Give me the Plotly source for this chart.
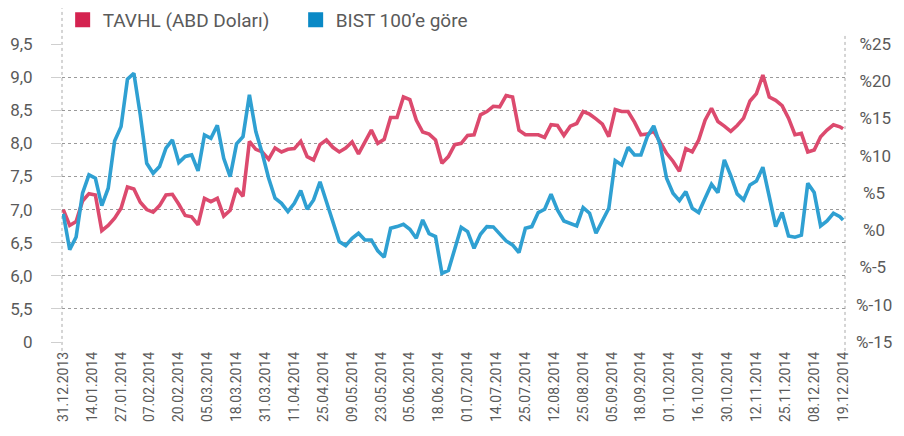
import plotly.graph_objects as go

# x tick labels (every 9 trading days)
date_labels = ["31.12.2013", "14.01.2014", "27.01.2014", "07.02.2014", "20.02.2014",
               "05.03.2014", "18.03.2014", "31.03.2014", "11.04.2014", "25.04.2014",
               "09.05.2014", "23.05.2014", "05.06.2014", "18.06.2014", "01.07.2014",
               "14.07.2014", "25.07.2014", "12.08.2014", "25.08.2014", "05.09.2014",
               "18.09.2014", "01.10.2014", "16.10.2014", "30.10.2014", "12.11.2014",
               "25.11.2014", "08.12.2014", "19.12.2014"]
label_days = [9 * i for i in range(len(date_labels))]

# sampled trading days (every 2nd trading day + last)
trading_day = list(range(0, 243, 2)) + [243]

# TAVHL share price in USD (left axis)
tavhl_usd = [7.00, 6.76, 6.82, 7.13, 7.24, 7.22, 6.68, 6.76, 6.87, 7.02,
             7.34, 7.31, 7.11, 7.00, 6.96, 7.06, 7.22, 7.23, 7.08, 6.91,
             6.89, 6.77, 7.17, 7.12, 7.17, 6.90, 6.99, 7.32, 7.20, 8.03,
             7.91, 7.87, 7.76, 7.93, 7.87, 7.91, 7.92, 8.03, 7.80, 7.75,
             7.98, 8.05, 7.94, 7.87, 7.93, 8.02, 7.84, 8.03, 8.20, 8.00,
             8.06, 8.39, 8.39, 8.70, 8.66, 8.35, 8.17, 8.14, 8.05, 7.70,
             7.80, 7.98, 8.00, 8.12, 8.13, 8.43, 8.48, 8.56, 8.55, 8.72,
             8.70, 8.20, 8.13, 8.13, 8.13, 8.09, 8.28, 8.27, 8.12, 8.26,
             8.30, 8.48, 8.44, 8.37, 8.29, 8.10, 8.51, 8.48, 8.48, 8.32,
             8.13, 8.14, 8.18, 8.02, 7.85, 7.73, 7.58, 7.92, 7.87, 8.05,
             8.35, 8.53, 8.33, 8.26, 8.18, 8.27, 8.38, 8.64, 8.75, 9.03,
             8.70, 8.65, 8.57, 8.38, 8.13, 8.15, 7.87, 7.90, 8.10, 8.20,
             8.28, 8.25, 8.22]

# Relative performance vs BIST 100, % (right axis)
bist_rel = [2.2, -2.6, -0.9, 4.97, 7.43, 6.98, 3.31, 5.64, 11.99, 13.91,
            20.27, 21.07, 15.48, 8.99, 7.65, 8.55, 11.01, 12.13, 9.08, 9.9,
            10.11, 7.96, 12.80, 12.35, 14.09, 9.66, 7.20, 11.59, 12.57, 18.17,
            13.24, 10.34, 6.98, 4.30, 3.62, 2.51, 3.62, 5.32, 2.82, 4.07,
            6.5, 3.85, 1.03, -1.52, -2.06, -1.07, -0.40, -1.30, -1.30, -2.77,
            -3.62, 0.27, 0.49, 0.81, 0.13, -1.07, 1.39, -0.45, -0.85, -5.8,
            -5.4, -2.28, 0.40, -0.18, -2.42, -0.54, 0.49, 0.45, -0.49, -1.43,
            -1.97, -3.00, 0.27, 0.49, 2.37, 2.82, 4.83, 2.73, 1.25, 0.85,
            0.58, 3.04, 2.28, -0.40, 1.39, 2.95, 9.35, 8.77, 11.14, 10.11,
            10.11, 12.57, 14.0, 11.45, 6.98, 4.97, 3.98, 5.19, 2.95, 2.37,
            4.30, 6.17, 5.06, 9.44, 7.34, 4.88, 4.07, 6.09, 6.62, 8.46,
            4.52, 0.49, 2.37, -0.76, -0.94, -0.67, 6.31, 5.06, 0.58, 1.25,
            2.28, 1.83, 1.39]

left_vals = [5.0, 5.5, 6.0, 6.5, 7.0, 7.5, 8.0, 8.5, 9.0, 9.5]
left_text = ["0", "5,5", "6,0", "6,5", "7,0", "7,5", "8,0", "8,5", "9,0", "9,5"]
right_vals = [-15, -10, -5, 0, 5, 10, 15, 20, 25]
right_text = ["%-15", "%-10", "\u2009%-5", "\u2009\u2009%0", "\u2009\u2009%5",
              "\u2009%10", "\u2009%15", "\u2009%20", "\u2009%25"]

RED_LINE = "#dc4a6e"
BLUE_LINE = "#2fa0d2"
RED_KEY = "#d42350"
BLUE_KEY = "#0a89c6"
TXT = "#5a5a5a"
FONT = "Roboto, sans-serif"

fig = go.Figure()
fig.add_trace(go.Scatter(x=trading_day, y=tavhl_usd, mode="lines",
                         line=dict(color=RED_LINE, width=3.6), showlegend=False,
                         yaxis="y", hoverinfo="skip"))
fig.add_trace(go.Scatter(x=trading_day, y=bist_rel, mode="lines",
                         line=dict(color=BLUE_LINE, width=3.6), showlegend=False,
                         yaxis="y2", hoverinfo="skip"))
# legend keys
fig.add_trace(go.Scatter(x=[None], y=[None], mode="markers", name="TAVHL (ABD Doları)",
                         marker=dict(symbol="square", size=15, color=RED_KEY)))
fig.add_trace(go.Scatter(x=[None], y=[None], mode="markers", name="BIST 100’e göre",
                         marker=dict(symbol="square", size=15, color=BLUE_KEY)))

# page has an 8px body margin, so the figure is 896x428 drawn at (8, 8)
fig.update_layout(
    width=896, height=428, autosize=False,
    margin=dict(l=54, r=59, t=36, b=94, autoexpand=False),
    paper_bgcolor="white", plot_bgcolor="white",
    font=dict(family=FONT, color=TXT),
    legend=dict(orientation="h", xref="container", yref="container",
                x=0.061, xanchor="left", y=0.972, yanchor="middle",
                font=dict(size=19, color=TXT), entrywidth=188,
                bgcolor="rgba(0,0,0,0)"),
    xaxis=dict(range=[-0.4, 243.6], tickmode="array", tickvals=label_days,
               ticktext=date_labels, tickangle=-90, tickfont=dict(size=14, color=TXT),
               showgrid=False, zeroline=False, showline=False, ticks="",
               ticklabelstandoff=6),
    yaxis=dict(range=[5, 9.5], tickmode="array", tickvals=left_vals, ticktext=left_text,
               tickfont=dict(size=17, color=TXT), showgrid=True, gridcolor="#9a9a9a",
               griddash="dot", gridwidth=1, zeroline=False, showline=False,
               ticks="outside", ticklen=10, tickcolor="#cfcfcf", ticklabelstandoff=15),
    yaxis2=dict(range=[-15, 25], overlaying="y", side="right", tickmode="array",
                tickvals=right_vals, ticktext=right_text,
                tickfont=dict(size=17, color=TXT), showgrid=False, zeroline=False,
                showline=False, ticklabelstandoff=10),
    shapes=[
        dict(type="line", xref="paper", yref="paper", x0=0, x1=0, y0=-0.03, y1=1.12,
             line=dict(color="#aaaaaa", width=1, dash="dot"), layer="below"),
        dict(type="line", xref="paper", yref="paper", x0=1, x1=1, y0=-0.03, y1=1.03,
             line=dict(color="#aaaaaa", width=1, dash="dot"), layer="below"),
    ],
)

fig.write_html("out.html")
